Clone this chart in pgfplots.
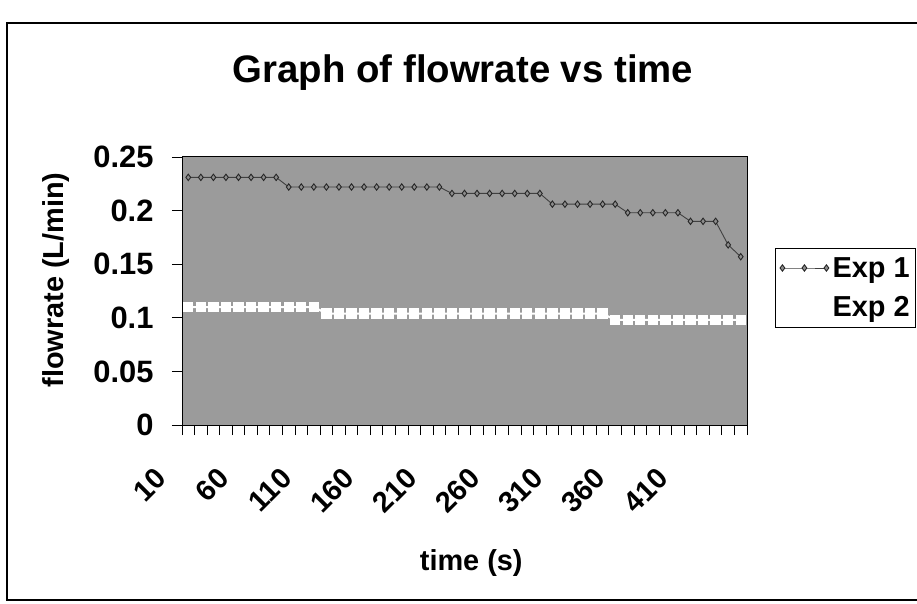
\documentclass[border=0pt]{standalone}
\usepackage{pgfplots}
\pgfplotsset{compat=1.18}
\usepackage{fontspec}
\setmainfont{Liberation Sans}
\definecolor{plotbg}{RGB}{155,155,155}
\pgfplotsset{longlegend/.style={legend image code/.code={\draw[##1] plot coordinates {(0bp,0bp) (22bp,0bp) (44bp,0bp)};}}}
\begin{document}
\begin{tikzpicture}
\useasboundingbox (0,0) rectangle (917bp,604bp);
\clip (0,0) rectangle (917bp,604bp);
\fill[white] (0,0) rectangle (917bp,604bp);
\draw[line width=1.3bp] (7bp,4bp) rectangle (940bp,581bp);
\node[anchor=base, font=\fontsize{38.5}{44}\selectfont\bfseries] at (463bp,521bp) {Graph of flowrate vs time};
\begin{axis}[
  at={(182bp,179bp)}, anchor=south west,
  scale only axis, width=565bp, height=268bp,
  xmin=-0.5, xmax=44.5, ymin=0, ymax=0.25,
  axis background/.style={fill=plotbg},
  axis line style={black, line width=1bp},
  tick align=outside,
  major tick length=10bp, minor tick length=10bp,
  xtick={0,5,10,15,20,25,30,35,40},
  xticklabels={10,60,110,160,210,260,310,360,410},
  major x tick style={draw=none},
  minor xtick={-0.5,0.5,...,44.5},
  every tick/.style={black, line width=0.8bp},
  ytick={0,0.05,0.1,0.15,0.2,0.25},
  yticklabels={0,0.05,0.1,0.15,0.2,0.25},
  ytick pos=left, xtick pos=bottom,
  /pgf/number format/assume math mode=true,
  yticklabel style={font=\fontsize{31}{35}\selectfont\bfseries},
  xticklabel style={font=\fontsize{29}{33}\selectfont\bfseries, xshift=-25bp, rotate=45, anchor=east},
  xticklabel shift=36bp,
  yticklabel shift=15bp,
  xlabel={time (s)},
  xlabel style={font=\fontsize{29}{33}\selectfont\bfseries, at={(rel axis cs:0.512,0)}, anchor=base, yshift=-145bp},
  ylabel={flowrate (L/min)},
  ylabel style={font=\fontsize{29}{33}\selectfont\bfseries, at={(rel axis cs:-0.223,0.541)}, anchor=center, rotate=0},
  legend style={at={(1.0496,0.66)}, anchor=north west, draw=black, fill=white,
    font=\fontsize{29}{33}\selectfont\bfseries, row sep=14bp, inner xsep=3bp, inner ysep=7bp},
  legend cell align=left,
  longlegend,
  clip=false,
]
\addplot[black!75, line width=0.9bp, mark=diamond*, mark size=3.2bp, mark options={fill=black!45, draw=black!85}]
  coordinates {
  (0,0.231) (1,0.231) (2,0.231) (3,0.231) (4,0.231) (5,0.231) (6,0.231) (7,0.231)
  (8,0.222) (9,0.222) (10,0.222) (11,0.222) (12,0.222) (13,0.222) (14,0.222) (15,0.222)
  (16,0.222) (17,0.222) (18,0.222) (19,0.222) (20,0.222)
  (21,0.216) (22,0.216) (23,0.216) (24,0.216) (25,0.216) (26,0.216) (27,0.216) (28,0.216)
  (29,0.206) (30,0.206) (31,0.206) (32,0.206) (33,0.206) (34,0.206)
  (35,0.198) (36,0.198) (37,0.198) (38,0.198) (39,0.198)
  (40,0.19) (41,0.19) (42,0.19)
  (43,0.168) (44,0.157)
  };
\addlegendentry{Exp 1}
\addplot[white, line width=2bp, mark=square*, mark size=4.2bp, mark options={fill=white, draw=white}]
  coordinates {
  (0,0.110) (1,0.110) (2,0.110) (3,0.110) (4,0.110) (5,0.110) (6,0.110) (7,0.110) (8,0.110) (9,0.110) (10,0.110)
  (11,0.104) (12,0.104) (13,0.104) (14,0.104) (15,0.104) (16,0.104) (17,0.104) (18,0.104) (19,0.104) (20,0.104)
  (21,0.104) (22,0.104) (23,0.104) (24,0.104) (25,0.104) (26,0.104) (27,0.104) (28,0.104) (29,0.104) (30,0.104)
  (31,0.104) (32,0.104) (33,0.104)
  (34,0.098) (35,0.098) (36,0.098) (37,0.098) (38,0.098) (39,0.098) (40,0.098) (41,0.098) (42,0.098) (43,0.098) (44,0.098)
  };
\addlegendentry{Exp 2}
\end{axis}
\end{tikzpicture}
\end{document}
